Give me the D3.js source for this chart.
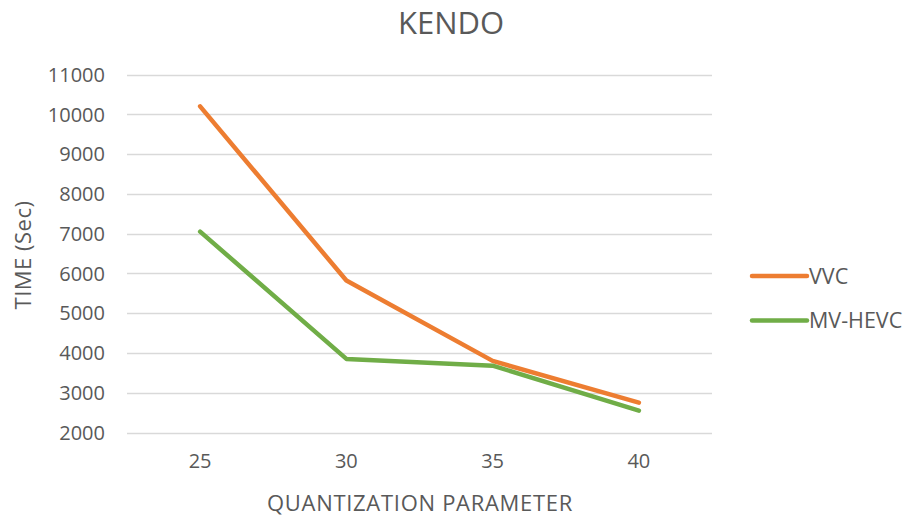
<!DOCTYPE html>
<html>
<head>
<meta charset="utf-8">
<script src="https://cdn.jsdelivr.net/npm/d3@7"></script>
<style>
  html, body { margin: 0; padding: 0; background: #fff; }
  svg text { font-family: "Open Sans", "Liberation Sans", sans-serif; fill: #595959; }
</style>
</head>
<body>
<svg id="chart" width="908" height="518"></svg>
<script>
// Quantization parameters on the x axis
const qp = ["25", "30", "35", "40"];
// Encoding time in seconds for each codec
const vvc = [10200, 5820, 3800, 2750];
const mvhevc = [7050, 3850, 3680, 2550];
// Y axis tick values
const yTicks = [2000, 3000, 4000, 5000, 6000, 7000, 8000, 9000, 10000, 11000];

const seriesNames = ["VVC", "MV-HEVC"];
const seriesColors = ["#ED7D31", "#70AD47"];
const series = [vvc, mvhevc];

const svg = d3.select("#chart");
const plot = { left: 127, right: 712, top: 74.5, bottom: 432.5 };

const x = d3.scaleBand().domain(qp).range([plot.left, plot.right]);
const y = d3.scaleLinear().domain([2000, 11000]).range([plot.bottom, plot.top]);

// Horizontal gridlines
svg.append("g").selectAll("line").data(yTicks).join("line")
  .attr("x1", plot.left).attr("x2", plot.right)
  .attr("y1", d => Math.round(y(d)) + 0.5).attr("y2", d => Math.round(y(d)) + 0.5)
  .attr("stroke", "#d9d9d9").attr("stroke-width", 1.5);

// Y tick labels
const yAxis = d3.axisLeft(y).tickValues(yTicks).tickSize(0).tickPadding(0).tickFormat(d3.format("d"));
const gy = svg.append("g").attr("transform", `translate(${plot.left - 22},0)`).call(yAxis);
gy.select(".domain").remove();
gy.selectAll("text").style("font-size", "20px").attr("fill", "#595959").attr("dy", "0.34em")
  .attr("font-family", "Open Sans");

// X tick labels
const xAxis = d3.axisBottom(x).tickSize(0).tickPadding(0);
const gx = svg.append("g").attr("transform", `translate(0,${plot.bottom + 21})`).call(xAxis);
gx.select(".domain").remove();
gx.selectAll("text").style("font-size", "20px").attr("fill", "#595959").attr("dy", "0.72em")
  .attr("font-family", "Open Sans");

// Lines
const line = d3.line()
  .x((d, i) => x(qp[i]) + x.bandwidth() / 2)
  .y(d => y(d));

svg.append("g").selectAll("path").data(series).join("path")
  .attr("d", d => line(d))
  .attr("fill", "none")
  .attr("stroke", (d, i) => seriesColors[i])
  .attr("stroke-width", 4.5)
  .attr("stroke-linejoin", "round")
  .attr("stroke-linecap", "round");

// Title
svg.append("text").attr("x", 451).attr("y", 34).attr("text-anchor", "middle")
  .style("font-size", "31px").text("KENDO");

// Axis titles
svg.append("text").attr("x", 420).attr("y", 511).attr("text-anchor", "middle")
  .style("font-size", "22px").style("letter-spacing", "0.7px").text("QUANTIZATION PARAMETER");
svg.append("text").attr("transform", "translate(31,255) rotate(-90)").attr("text-anchor", "middle")
  .style("font-size", "22px").style("letter-spacing", "0.5px").text("TIME (Sec)");

// Legend
const legend = svg.append("g").selectAll("g").data(seriesNames).join("g")
  .attr("transform", (d, i) => `translate(752,${276 + i * 44.5})`);
legend.append("line").attr("x1", 0).attr("x2", 55).attr("y1", 0).attr("y2", 0)
  .attr("stroke", (d, i) => seriesColors[i]).attr("stroke-width", 4.5).attr("stroke-linecap", "round");
legend.append("text").attr("x", 57).attr("y", 0).attr("dy", "0.35em")
  .style("font-size", "21.5px").text(d => d);
</script>
</body>
</html>
